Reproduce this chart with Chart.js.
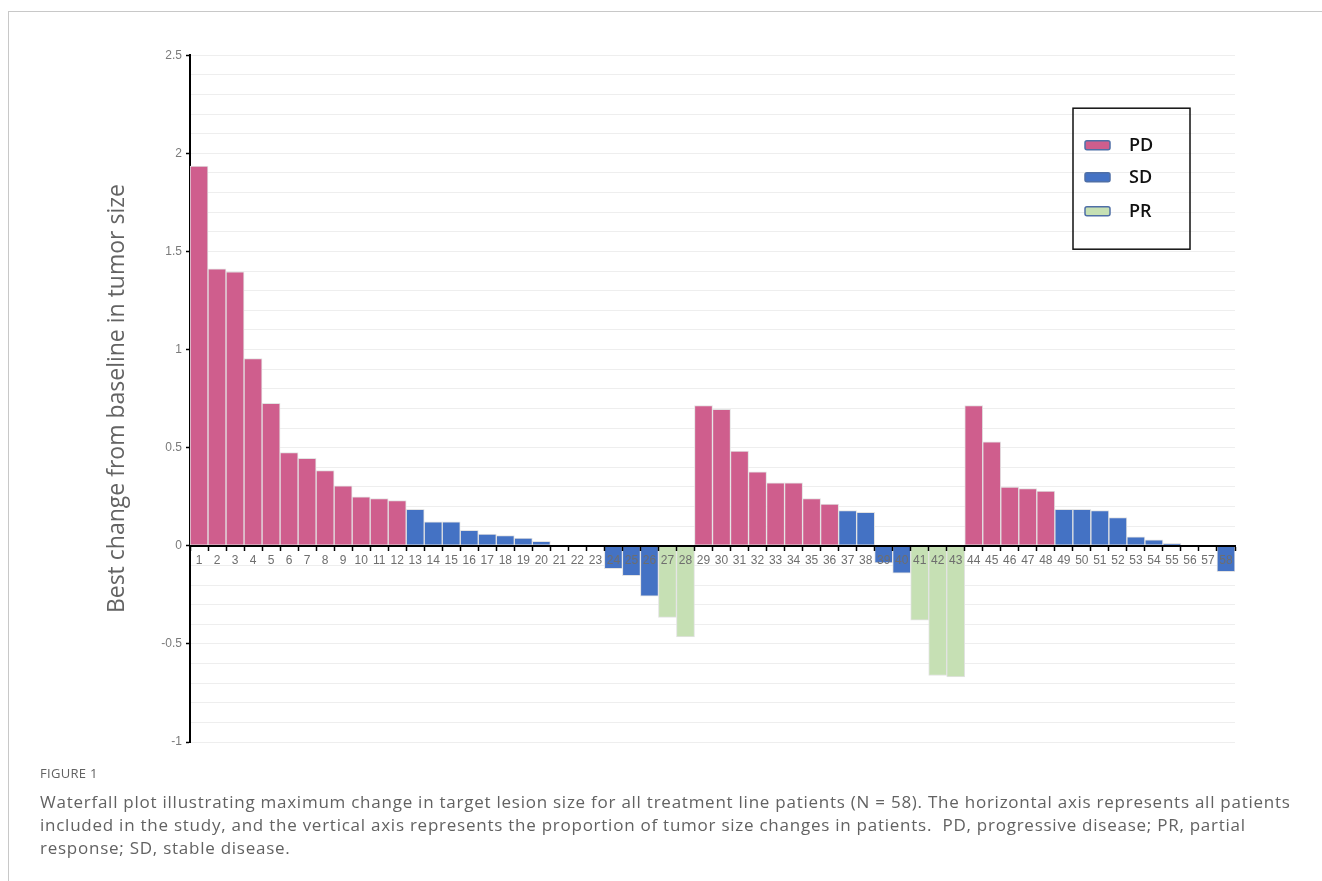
<!DOCTYPE html>
<html>
<head>
<meta charset="utf-8">
<title>Waterfall plot</title>
<script src="https://cdn.jsdelivr.net/npm/chart.js@4"></script>
<style>
  html, body { margin: 0; padding: 0; background: #fff; width: 1322px; height: 881px; overflow: hidden; }
  #frame { position: absolute; left: 8px; top: 11px; width: 1314px; height: 870px;
           border-top: 1px solid #c8c8c8; border-left: 1px solid #c8c8c8; }
  #wrap { position: absolute; left: 100px; top: 44px; width: 1150px; height: 720px; }
  #cap { position: absolute; left: 40px; top: 763px; font-family: "Open Sans", sans-serif; color: #626262; }
  #cap .fig { font-size: 13px; line-height: 20px; letter-spacing: 0.3px; }
  #cap .txt { font-size: 17px; line-height: 23px; letter-spacing: 0.75px; white-space: nowrap; margin-top: 7px; }
</style>
</head>
<body>
<div id="frame"></div>
<div id="wrap"><canvas id="c"></canvas></div>
<div id="cap">
  <div class="fig">FIGURE 1</div>
  <div class="txt">Waterfall plot illustrating maximum change in target lesion size for all treatment line patients (N = 58). The horizontal axis represents all patients<br>included in the study, and the vertical axis represents the proportion of tumor size changes in patients.&nbsp; PD, progressive disease; PR, partial<br>response; SD, stable disease.</div>
</div>
<script>
// Patient numbers along the horizontal axis
const patients = Array.from({ length: 58 }, (_, i) => String(i + 1));

// Best change from baseline in tumor size, per patient
const bestChange = [
  1.935, 1.411, 1.396, 0.954, 0.726, 0.475, 0.446, 0.383, 0.306, 0.250,
  0.241, 0.230, 0.186, 0.122, 0.122, 0.079, 0.059, 0.052, 0.039, 0.023,
  0, 0, 0, -0.117, -0.152, -0.257, -0.365, -0.465, 0.715, 0.695,
  0.482, 0.377, 0.321, 0.321, 0.241, 0.213, 0.179, 0.170, -0.088, -0.139,
  -0.379, -0.661, -0.668, 0.715, 0.530, 0.299, 0.291, 0.279, 0.186, 0.186,
  0.179, 0.144, 0.046, 0.030, 0.012, 0, 0, -0.132
];

// Best overall response per patient
const response = [
  'PD','PD','PD','PD','PD','PD','PD','PD','PD','PD',
  'PD','PD','SD','SD','SD','SD','SD','SD','SD','SD',
  'SD','SD','SD','SD','SD','SD','PR','PR','PD','PD',
  'PD','PD','PD','PD','PD','PD','SD','SD','SD','SD',
  'PR','PR','PR','PD','PD','PD','PD','PD','SD','SD',
  'SD','SD','SD','SD','SD','SD','SD','SD'
];

const groups = ['PD', 'SD', 'PR'];
const groupColors = { PD: '#cf5e8d', SD: '#4472c4', PR: '#c6e0b4' };

const datasets = groups.map(g => ({
  label: g,
  data: bestChange.map((v, i) => (response[i] === g ? v : null)),
  backgroundColor: groupColors[g],
  borderColor: '#e3e3e3',
  borderWidth: 1,
  borderSkipped: false,
  barPercentage: 1,
  categoryPercentage: 1,
  grouped: false
}));

// Boxed legend in the upper right of the plot area
const boxedLegend = {
  id: 'boxedLegend',
  afterDraw(chart) {
    const { ctx, chartArea } = chart;
    const w = 117, h = 141;
    const x = chartArea.right - 45 - w;
    const y = chartArea.top + 53;
    ctx.save();
    ctx.strokeStyle = '#111';
    ctx.lineWidth = 1.5;
    ctx.strokeRect(x, y, w, h);
    const rows = [37, 69, 103];
    chart.data.datasets.forEach((ds, i) => {
      const cy = y + rows[i];
      ctx.beginPath();
      ctx.roundRect(x + 12, cy - 4.5, 25, 9, 2);
      ctx.fillStyle = ds.backgroundColor;
      ctx.fill();
      ctx.strokeStyle = '#4f6fa6';
      ctx.lineWidth = 1.5;
      ctx.stroke();
      ctx.fillStyle = '#111';
      ctx.font = '600 18px "Open Sans", "Liberation Sans", sans-serif';
      ctx.textBaseline = 'middle';
      ctx.fillText(ds.label, x + 56, cy + 1);
    });
    ctx.restore();
  }
};

const tickFont = { family: '"Liberation Sans", Arial, sans-serif', size: 12 };

new Chart(document.getElementById('c'), {
  type: 'bar',
  data: { labels: patients, datasets },
  options: {
    responsive: true,
    maintainAspectRatio: false,
    animation: false,
    layout: { padding: { top: 8, right: 15, bottom: 22, left: 0 } },
    plugins: { legend: { display: false }, tooltip: { enabled: false } },
    scales: {
      x: {
        type: 'category',
        position: { y: 0 },
        grid: { display: true, drawOnChartArea: false, drawTicks: true, tickLength: 4,
                tickColor: '#000', tickWidth: 1.5, z: 1, offset: true },
        border: { display: true, color: '#000', width: 2, z: 1 },
        ticks: { color: '#6e6e6e', font: tickFont, padding: 4, maxRotation: 0,
                 autoSkip: false, z: 1 }
      },
      y: {
        min: -1,
        max: 2.5,
        afterFit(scale) { scale.width = 90; },
        grid: {
          color: '#eeeeee',
          lineWidth: 1,
          drawTicks: true,
          tickLength: 4,
          tickWidth: 1.5,
          tickColor: c => (Math.round(c.tick.value * 10) % 5 === 0 ? '#000' : 'rgba(0,0,0,0)')
        },
        border: { display: true, color: '#000', width: 2 },
        ticks: {
          stepSize: 0.1,
          autoSkip: false,
          color: '#7a7a7a',
          font: tickFont,
          padding: 4,
          callback: v => {
            const k = Math.round(v * 10);
            return k % 5 === 0 ? String(k / 10) : '';
          }
        },
        title: {
          display: true,
          text: 'Best change from baseline in tumor size',
          color: '#636363',
          font: { family: '"Open Sans", sans-serif', size: 23, weight: 'normal' },
          padding: { top: 4, bottom: 0 }
        }
      }
    }
  },
  plugins: [boxedLegend]
});
</script>
</body>
</html>
